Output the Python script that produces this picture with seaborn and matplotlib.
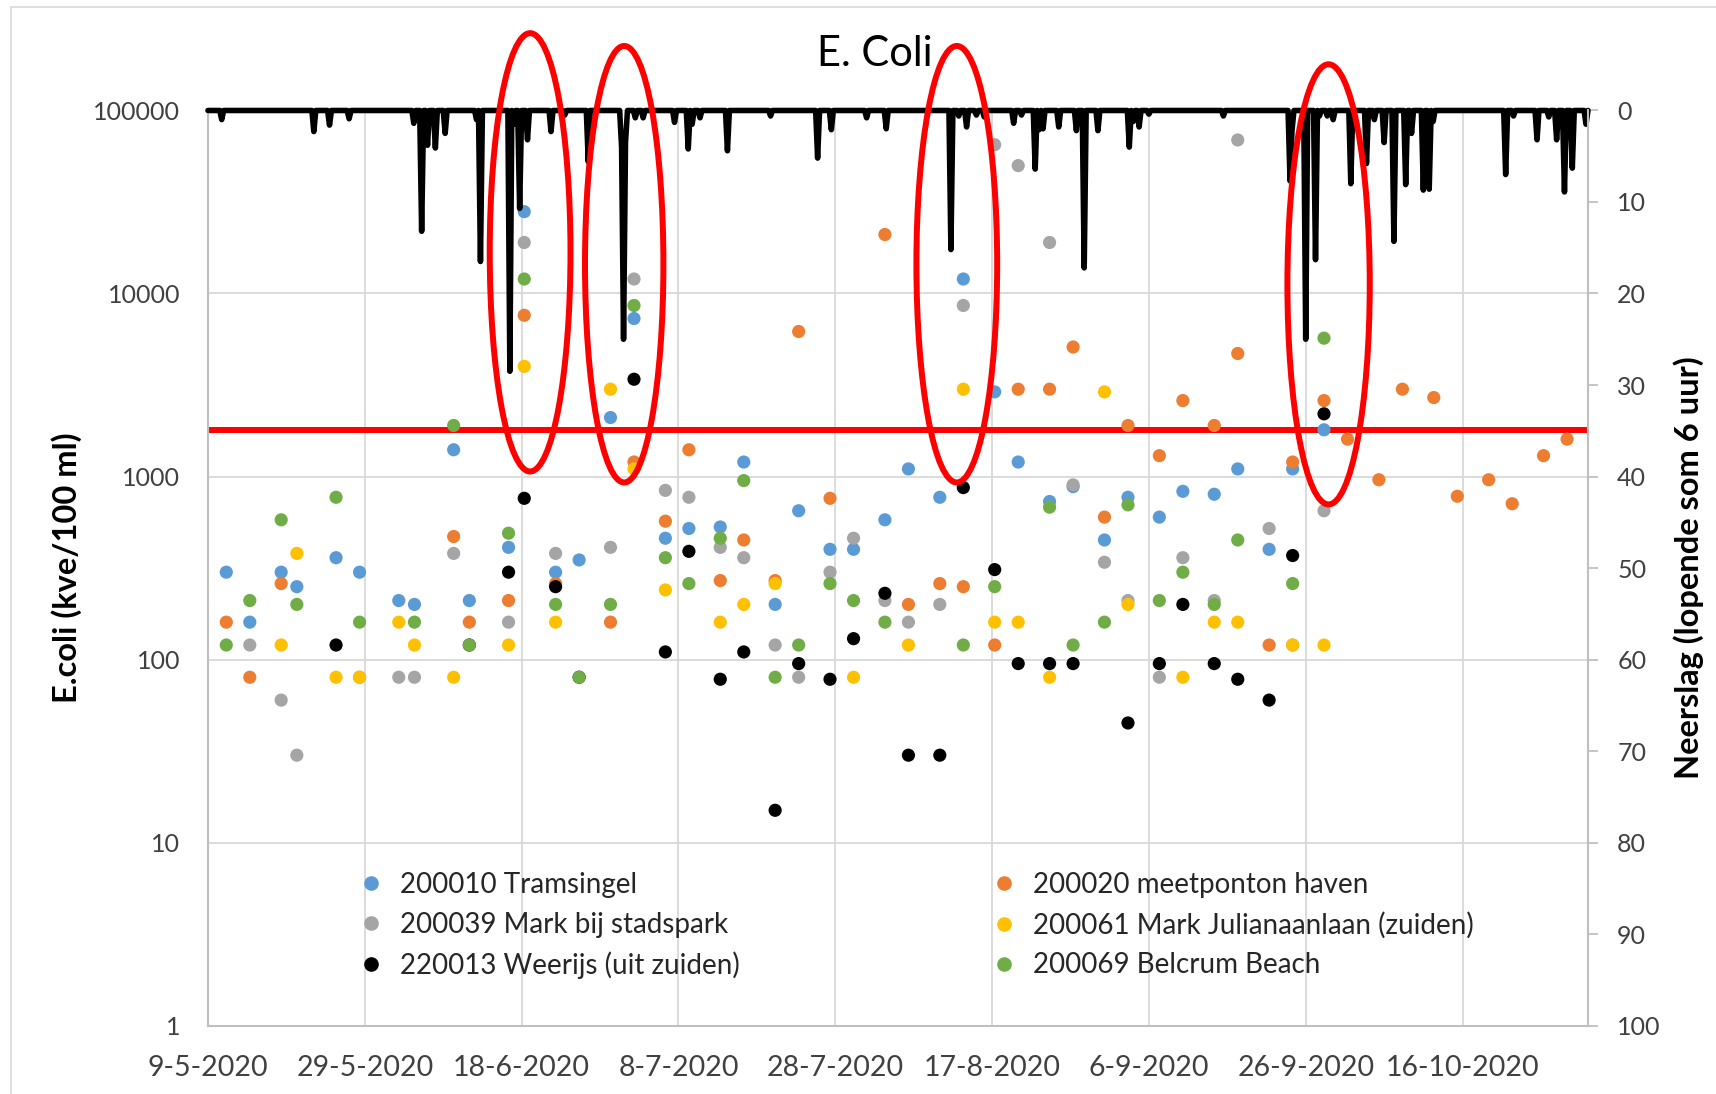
import pandas as pd
import numpy as np
import matplotlib
matplotlib.use('Agg')
import matplotlib.pyplot as plt
import matplotlib.dates as mdates
from matplotlib.patches import Ellipse
from matplotlib.lines import Line2D
from matplotlib.transforms import blended_transform_factory
import seaborn as sns

N = None

# bemonsteringsdata (dag-maand-2020), monsters in de ochtend genomen
sample_dates = ['11-5', '14-5', '18-5', '20-5', '25-5', '28-5', '2-6', '4-6', '9-6', '11-6',
                '16-6', '18-6', '22-6', '25-6', '29-6', '2-7', '6-7', '9-7', '13-7', '16-7',
                '20-7', '23-7', '27-7', '30-7', '3-8', '6-8', '10-8', '13-8', '17-8', '20-8',
                '24-8', '27-8', '31-8', '3-9', '7-9', '10-9', '14-9', '17-9', '21-9', '24-9',
                '28-9', '1-10', '5-10', '8-10', '12-10', '15-10', '19-10', '22-10', '26-10', '29-10']
sample_time = '08:00'

tramsingel = [300, 160, 300, 250, 360, 300, 210, 200, 1400, 210,
              410, 28000, 300, 350, 2100, 7300, 460, 520, 530, 1200,
              200, 650, 400, 400, 580, 1100, 770, 12000, 2900, 1200,
              730, 880, 450, 770, 600, 830, 800, 1100, 400, 1100,
              1800, N, N, N, N, N, N, N, N, N]
meetponton = [160, 80, 260, N, N, 80, N, N, 470, 160,
              210, 7600, 260, N, 160, 1200, 570, 1400, 270, 450,
              270, 6200, 760, N, 21000, 200, 260, 250, 120, 3000,
              3000, 5100, 600, 1900, 1300, 2600, 1900, 4700, 120, 1200,
              2600, 1600, 960, 3000, 2700, 780, 960, 710, 1300, 1600]
stadspark = [N, 120, 60, 30, N, N, 80, 80, 380, N,
             160, 19000, 380, N, 410, 12000, 840, 770, 410, 360,
             120, 80, 300, 460, 210, 160, 200, 8600, 65000, 50000,
             19000, 900, 340, 210, 80, 360, 210, 69000, 520, 120,
             650, N, N, N, N, N, N, N, N, N]
julianalaan = [N, N, 120, 380, 80, 80, 160, 120, 80, N,
               120, 4000, 160, N, 3000, 1100, 240, N, 160, 200,
               260, N, N, 80, N, 120, N, 3000, 160, 160,
               80, N, 2900, 200, N, 80, 160, 160, N, 120,
               120, N, N, N, N, N, N, N, N, N]
weerijs = [N, N, N, N, 120, N, N, N, N, 120,
           300, 760, 250, 80, N, 3400, 110, 390, 78, 110,
           15, 95, 78, 130, 230, 30, 30, 870, 310, 95,
           95, 95, N, 45, 95, 200, 95, 78, 60, 370,
           2200, N, N, N, N, N, N, N, N, N]
belcrum = [120, 210, 580, 200, 770, 160, N, 160, 1900, 120,
           490, 12000, 200, 80, 200, 8600, 360, 260, 460, 950,
           80, 120, 260, 210, 160, N, N, 120, 250, N,
           680, 120, 160, 700, 210, 300, 200, 450, N, 260,
           5700, N, N, N, N, N, N, N, N, N]

stations = ['200010 Tramsingel', '200020 meetponton haven', '200039 Mark bij stadspark',
            '200061 Mark Julianaanlaan (zuiden)', '220013 Weerijs (uit zuiden)', '200069 Belcrum Beach']
station_values = [tramsingel, meetponton, stadspark, julianalaan, weerijs, belcrum]
colors = ['#5B9BD5', '#ED7D31', '#A5A5A5', '#FFC000', '#000000', '#70AD47']

norm_value = 1800

# neerslag, lopende som 6 uur (mm), alleen tijdstippen met regen
rain_times = ['2020-05-10 18:00', '2020-05-22 12:00', '2020-05-24 12:00', '2020-05-27 00:00',
              '2020-06-04 06:00', '2020-06-05 06:00', '2020-06-06 00:00', '2020-06-07 00:00',
              '2020-06-08 06:00', '2020-06-12 06:00', '2020-06-12 18:00', '2020-06-16 12:00',
              '2020-06-17 00:00', '2020-06-17 18:00', '2020-06-18 18:00', '2020-06-21 18:00',
              '2020-06-23 12:00', '2020-06-26 12:00', '2020-06-30 18:00', '2020-07-01 00:00',
              '2020-07-01 06:00', '2020-07-02 12:00', '2020-07-03 12:00', '2020-07-07 12:00',
              '2020-07-09 06:00', '2020-07-09 18:00', '2020-07-10 18:00', '2020-07-14 06:00',
              '2020-07-19 18:00', '2020-07-25 18:00', '2020-07-27 12:00', '2020-08-01 00:00',
              '2020-08-03 12:00', '2020-08-11 18:00', '2020-08-12 18:00', '2020-08-13 18:00',
              '2020-08-15 00:00', '2020-08-16 00:00', '2020-08-19 18:00', '2020-08-20 18:00',
              '2020-08-22 12:00', '2020-08-23 00:00', '2020-08-23 12:00', '2020-08-25 12:00',
              '2020-08-27 18:00', '2020-08-28 18:00', '2020-08-30 12:00', '2020-09-03 12:00',
              '2020-09-04 00:00', '2020-09-04 18:00', '2020-09-06 00:00', '2020-09-15 12:00',
              '2020-09-24 00:00', '2020-09-24 06:00', '2020-09-26 00:00', '2020-09-27 06:00',
              '2020-09-27 18:00', '2020-09-28 18:00', '2020-09-29 12:00', '2020-10-01 18:00',
              '2020-10-03 18:00', '2020-10-04 18:00', '2020-10-06 00:00', '2020-10-07 06:00',
              '2020-10-08 18:00', '2020-10-09 12:00', '2020-10-11 00:00', '2020-10-11 18:00',
              '2020-10-12 06:00', '2020-10-21 12:00', '2020-10-22 12:00', '2020-10-25 12:00',
              '2020-10-27 00:00', '2020-10-28 00:00', '2020-10-29 00:00', '2020-10-30 00:00',
              '2020-10-31 18:00']
rain_mm = [1.0, 2.3, 1.6, 0.9,
           1.4, 13.2, 3.8, 4.1,
           2.5, 1.0, 16.5, 28.5,
           1.5, 10.7, 3.2, 2.3,
           0.5, 5.6, 4.0, 25.0,
           3.5, 0.8, 0.8, 1.3,
           4.2, 1.5, 0.8, 4.4,
           0.6, 5.2, 2.1, 0.8,
           2.0, 15.2, 0.6, 1.8,
           0.5, 0.7, 1.4, 0.5,
           6.4, 2.1, 2.0, 1.8,
           2.2, 17.2, 2.2, 4.0,
           1.2, 1.8, 0.4, 0.6,
           7.7, 2.2, 25.0, 16.3,
           0.6, 0.6, 1.0, 8.0,
           5.8, 1.0, 3.5, 14.3,
           8.1, 2.5, 8.7, 8.6,
           1.2, 7.0, 0.6, 3.2,
           0.7, 3.2, 8.9, 6.3,
           1.5]

xtick_labels = ['9-5-2020', '29-5-2020', '18-6-2020', '8-7-2020', '28-7-2020',
                '17-8-2020', '6-9-2020', '26-9-2020', '16-10-2020']
ytick_values = [1, 10, 100, 1000, 10000, 100000]

# rode ellipsen rond de regenpieken
ellipse_centers = ['2020-06-19 02:00', '2020-07-01 02:00', '2020-08-12 12:00', '2020-09-28 22:00']
ellipse_widths = [10.3, 10.0, 10.3, 10.5]

# ---- data opbouwen ----
frames = []
for name, vals in zip(stations, station_values):
    d = pd.DataFrame({'datum': pd.to_datetime([s + '-2020 ' + sample_time for s in sample_dates],
                                              format='%d-%m-%Y %H:%M'),
                      'waarde': vals})
    d['locatie'] = name
    frames.append(d.dropna())
df = pd.concat(frames, ignore_index=True)
df['waarde'] = df['waarde'].astype(float)

t_start = pd.Timestamp('2020-05-09')
t_end = pd.Timestamp('2020-11-01')
rain = pd.Series(0.0, index=pd.date_range(t_start, t_end, freq='6h'))
rain.loc[pd.to_datetime(rain_times)] = rain_mm
rain_df = pd.DataFrame({'tijd': rain.index, 'mm': rain.values})

# ---- plot ----
sns.set_theme(style='white')
plt.rcParams['font.family'] = ['Lato', 'DejaVu Sans']

fig = plt.figure(figsize=(17.16, 10.94), dpi=100)
ax = fig.add_axes([0.1212, 0.0626, 0.8042, 0.8364])

ax.axhline(norm_value, color='#FF0000', lw=4.3, zorder=1)
sns.scatterplot(data=df, x='datum', y='waarde', hue='locatie', hue_order=stations,
                palette=colors, s=90, edgecolor='none', legend=False, ax=ax, zorder=3)

ax.set_yscale('log')
ax.set_ylim(1, 100000)
ax.set_yticks(ytick_values)
ax.set_yticklabels([str(v) for v in ytick_values])
ax.yaxis.set_minor_locator(matplotlib.ticker.NullLocator())
ax.set_xlim(t_start, t_end)
xticks = pd.to_datetime(xtick_labels, format='%d-%m-%Y')
ax.set_xticks(xticks)
ax.set_xticklabels(xtick_labels)
ax.tick_params(axis='x', labelsize=20.5, length=0, pad=21, colors='#404040')
ax.tick_params(axis='y', labelsize=18, length=0, pad=20, colors='#404040')
ax.grid(True, color='#D9D9D9', lw=1.3)
ax.set_axisbelow(True)
ax.set_xlabel('')
ax.set_ylabel('E.coli (kve/100 ml)', fontsize=23.5, fontweight='bold', color='black')
ax.yaxis.set_label_coords(-0.091, 0.5)
for side in ['top', 'right']:
    ax.spines[side].set_visible(False)
for side in ['left', 'bottom']:
    ax.spines[side].set_color('#BFBFBF')
    ax.spines[side].set_linewidth(1.5)

ax2 = ax.twinx()
sns.lineplot(data=rain_df, x='tijd', y='mm', color='black', linewidth=4.0,
             estimator=None, ax=ax2)
for ln in ax2.lines:
    ln.set_clip_on(False)
    ln.set_solid_joinstyle('round')
    ln.set_solid_capstyle('round')
ax2.set_ylim(100, 0)
ax2.set_xlim(t_start, t_end)
ax2.set_yticks(np.arange(0, 101, 10))
ax2.tick_params(axis='y', labelsize=18, length=7, width=1.3, pad=14,
                color='#BFBFBF', labelcolor='#404040')
ax2.grid(False)
ax2.set_ylabel('Neerslag (lopende som 6 uur)', fontsize=23.5, fontweight='bold',
               color='black', rotation=90)
ax2.yaxis.set_label_coords(1.062, 0.5)
for side in ['top', 'left', 'bottom']:
    ax2.spines[side].set_visible(False)
ax2.spines['right'].set_color('#BFBFBF')
ax2.spines['right'].set_linewidth(1.5)

# ellipsen (x in datum, y in as-fractie)
trans = blended_transform_factory(ax2.transData, ax2.transAxes)
ell_y = [0.845, 0.832, 0.832, 0.810]
ell_h = [0.479, 0.477, 0.477, 0.481]
for c, w, cy, h in zip(ellipse_centers, ellipse_widths, ell_y, ell_h):
    e = Ellipse((mdates.date2num(pd.Timestamp(c)), cy), w, h, transform=trans,
                fill=False, edgecolor='#FF0000', lw=4.3, clip_on=False, zorder=5)
    ax2.add_patch(e)

# legenda in twee kolommen
handles = [Line2D([], [], marker='o', ls='', color=c, markersize=9.5) for c in colors]
leg_kw = dict(loc='upper left', frameon=False, fontsize=20, handlelength=0.6,
              handletextpad=0.75, labelspacing=0.5, borderpad=0, borderaxespad=0)
leg1 = ax2.legend(handles[0::2], stations[0::2], bbox_to_anchor=(0.112, 0.168), **leg_kw)
ax2.add_artist(leg1)
ax2.legend(handles[1::2], stations[1::2], bbox_to_anchor=(0.5705, 0.168), **leg_kw)

fig.text(0.51, 0.951, 'E. Coli', ha='center', va='center', fontsize=30, color='black')

# rand van de grafiek
fig.add_artist(Line2D([0.0064, 0.0064], [0, 0.9936], color='#D9D9D9', lw=1.2))
fig.add_artist(Line2D([0.0064, 1], [0.9936, 0.9936], color='#D9D9D9', lw=1.2))

fig.savefig('out.png', dpi=100, facecolor='white')
